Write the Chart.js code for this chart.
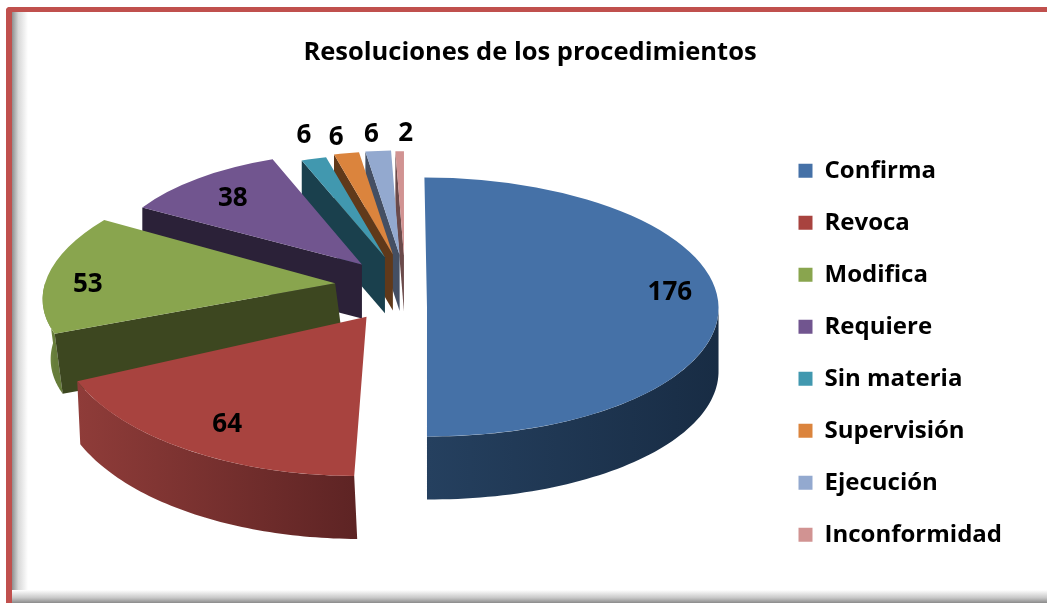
<!DOCTYPE html>
<html>
<head>
<meta charset="utf-8">
<script src="https://cdn.jsdelivr.net/npm/chart.js@4"></script>
<style>
html,body{margin:0;padding:0;background:#fff;width:1047px;height:603px;overflow:hidden}
#wrap{position:relative;width:1047px;height:603px}
.f{position:absolute}
canvas{position:absolute;left:0;top:0}
</style>
</head>
<body>
<div id="wrap">
<div class="f" style="left:12px;top:12px;width:16px;height:591px;background:linear-gradient(90deg,#8f8f8f,#d8d8d8 40%,#fff)"></div>
<div class="f" style="left:6px;top:590px;width:1041px;height:13px;background:linear-gradient(180deg,#fff,#c8c8c8 60%,#8a8a8a)"></div>
<div class="f" style="left:6px;top:7px;width:6px;height:596px;background:#C0504D;border-top-left-radius:4px"></div>
<div class="f" style="left:6px;top:7px;width:1041px;height:5px;background:#C0504D;border-top-left-radius:4px"></div>
<canvas id="c" width="1047" height="603"></canvas>
</div>
<script>
const titleText = "Resoluciones de los procedimientos";
const categories = ["Confirma","Revoca","Modifica","Requiere","Sin materia","Supervisión","Ejecución","Inconformidad"];
const values = [176,64,53,38,6,6,6,2];
const topColors = ["#4571A7","#A8433F","#89A54E","#71558F","#4198AF","#DB843D","#93A9CF","#D19392"];
const wallLight = ["#25405f","#8f3c39","#7a9346","#2b2138","#1a404d","#60391a","#444f63","#6b4a4a"];
const wallDark  = ["#182c44","#5e2424","#667c3a","#2b2138","#1a404d","#60391a","#444f63","#6b4a4a"];
const faceColors= ["#182c44","#5e2424","#3d4720","#2b2138","#1a404d","#60391a","#444f63","#6b4a4a"];

// Pseudo-3D view parameters per slice
const explode   = [22,70,70,67,67,62,60,58];
const sizeScale = [0.995,1.065,0.99,0.87,0.81,0.81,0.82,0.82];
const squash    = [0.444,0.51,0.43,0.44,0.435,0.435,0.435,0.435];
const skew      = [0.02,-0.06,-0.3,0,0,0,0,0];
const shiftY    = [24,4,2,4,2,-2,-2,-2];
const depth     = [63,63,60,54,56,56,56,56];
const depthDx   = [0,3,8,0,0,0,0,0];
const labelFrac = [0.84,0.83,0.84,0.8,1.25,1.2,1.22,1.22];
const labelNudgeX = [-2,3,-4,2,8,-1,-2,7];
const labelNudgeY = [-15,-3,7,3,2,5,7,5];
const PIE_X = 405, PIE_Y = 283, BASE_R = 293;
const FONT = "'Open Sans', sans-serif";

function geom(arc,i){
  const mid=(arc.startAngle+arc.endAngle)/2, k=squash[i], R=arc.outerRadius, s=skew[i];
  const ax=PIE_X+Math.cos(mid)*explode[i];
  const ay=PIE_Y+shiftY[i]+Math.sin(mid)*explode[i]*k;
  return {mid,k,R,ax,ay,s,pt:t=>[ax+R*Math.cos(t)+s*R*k*Math.sin(t),ay+R*k*Math.sin(t)]};
}
const pie3d={
  id:'pie3d',
  afterDatasetUpdate(chart){
    chart.getDatasetMeta(0).data.forEach((a,i)=>{a.outerRadius=BASE_R*sizeScale[i];});
  },
  beforeDatasetDraw(chart){
    const ctx=chart.ctx, arcs=chart.getDatasetMeta(0).data;
    for(let i=arcs.length-1;i>=0;i--){
      const a=arcs[i], g=geom(a,i), d=depth[i], dx=depthDx[i];
      const s=g.pt(a.startAngle);
      const t0=Math.max(a.startAngle,0), t1=Math.min(a.endAngle,Math.PI);
      if(t1>t0){
        const p0=g.pt(t0),p1=g.pt(t1);
        const grad=ctx.createLinearGradient(p0[0],0,p1[0],0);
        grad.addColorStop(0,wallDark[i]);grad.addColorStop(1,wallLight[i]);
        ctx.fillStyle=grad;
        ctx.beginPath();
        ctx.moveTo(p0[0],p0[1]);
        for(let n=0;n<=60;n++){const q=g.pt(t0+(t1-t0)*n/60);ctx.lineTo(q[0],q[1]);}
        for(let n=60;n>=0;n--){const q=g.pt(t0+(t1-t0)*n/60);ctx.lineTo(q[0]+dx,q[1]+d);}
        ctx.closePath();ctx.fill();
      }
      if(a.startAngle>2){
        ctx.fillStyle=faceColors[i];
        ctx.beginPath();
        ctx.moveTo(g.ax,g.ay);ctx.lineTo(s[0],s[1]);ctx.lineTo(s[0]+dx,s[1]+d);ctx.lineTo(g.ax+dx,g.ay+d);ctx.closePath();ctx.fill();
      }
    }
    arcs.forEach((a,i)=>{
      const g=geom(a,i);
      ctx.save();
      ctx.translate(g.ax,g.ay);
      ctx.transform(1,0,g.s,1,0,0);
      ctx.scale(1,squash[i]);
      ctx.translate(-a.x,-a.y);
      a.draw(ctx);
      ctx.restore();
    });
    ctx.save();
    ctx.fillStyle="#000";
    ctx.font="700 26px "+FONT;
    ctx.textAlign="center";ctx.textBaseline="middle";
    arcs.forEach((a,i)=>{
      const g=geom(a,i), q=[g.ax+g.R*labelFrac[i]*Math.cos(g.mid),g.ay+g.R*g.k*labelFrac[i]*Math.sin(g.mid)];
      ctx.fillText(String(values[i]),q[0]+labelNudgeX[i],q[1]+labelNudgeY[i]);
    });
    ctx.restore();
    return false;
  }
};
new Chart(document.getElementById('c'),{
  type:'pie',
  data:{labels:categories,datasets:[{data:values,backgroundColor:topColors,borderWidth:0,hoverOffset:0,clip:false}]},
  options:{
    responsive:false,animation:false,events:[],
    radius:BASE_R,
    layout:{padding:{left:48,right:35,top:37,bottom:0}},
    plugins:{
      title:{display:true,text:titleText,color:"#000",font:{family:FONT,size:25.5,weight:'700'},padding:{top:0,bottom:35}},
      tooltip:{enabled:false},
      legend:{position:'right',fullSize:false,labels:{color:"#000",boxWidth:14,boxHeight:14,padding:28,font:{family:FONT,size:24,weight:'700'}}}
    }
  },
  plugins:[pie3d]
});
</script>
</body>
</html>
